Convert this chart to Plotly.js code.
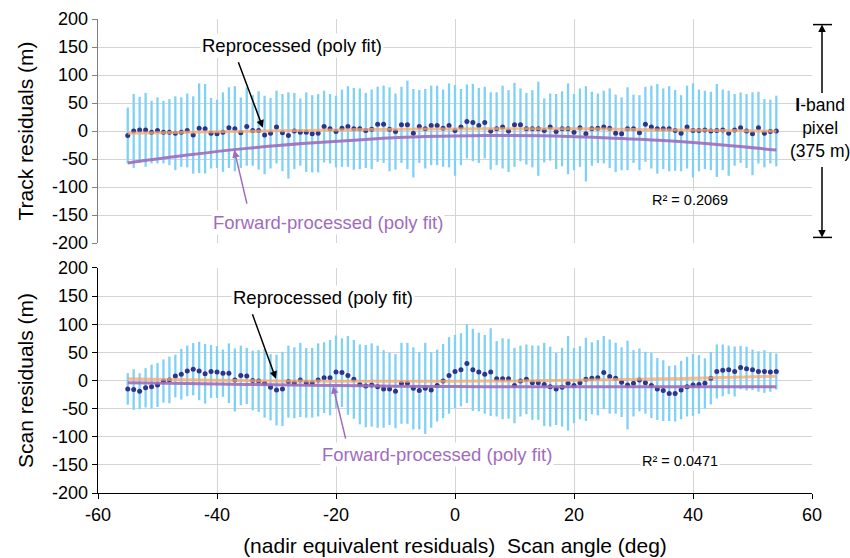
<!DOCTYPE html>
<html>
<head>
<meta charset="utf-8">
<script src="https://cdn.plot.ly/plotly-3.0.1.min.js"></script>
<style>
  html, body { margin: 0; padding: 0; background: #fff; }
  #chart { width: 850px; height: 558px; }
</style>
</head>
<body>
<div id="chart"></div>
<script>
// Scan angle of each residual sample (deg)
const scanAngle = [
  -55,-54,-53,-52,-51,-50,-49,-48,-47,-46,-45,-44,-43,-42,-41,-40,-39,-38,-37,-36,
  -35,-34,-33,-32,-31,-30,-29,-28,-27,-26,-25,-24,-23,-22,-21,-20,-19,-18,-17,-16,
  -15,-14,-13,-12,-11,-10,-9,-8,-7,-6,-5,-4,-3,-2,-1,0,1,2,3,4,
  5,6,7,8,9,10,11,12,13,14,15,16,17,18,19,20,21,22,23,24,
  25,26,27,28,29,30,31,32,33,34,35,36,37,38,39,40,41,42,43,44,
  45,46,47,48,49,50,51,52,53,54
];

// Track-direction mean residuals (m) and their spread (m)
const trackRes = [
  -8,0,2,2,-2,1,-2,-2,-4,-2,1,-7,5,4,-4,-5,-2,6,4,-3,
  8,1,1,-7,-4,7,-3,-8,0,-2,-2,-5,-4,8,4,-1,5,8,4,4,
  1,3,12,12,3,-1,11,11,-4,8,4,10,10,5,10,1,7,17,15,10,
  15,0,4,7,0,11,11,4,4,4,1,7,-1,4,4,-2,6,-5,4,5,
  7,5,-4,-5,4,4,-3,12,7,4,4,4,1,-4,7,1,1,2,0,1,
  2,-4,2,6,0,-5,6,-4,-1,0
];
const trackErr = [
  50,66,59,66,56,59,56,59,66,62,66,69,80,80,63,61,71,72,76,63,
  70,63,70,70,63,65,69,77,68,60,71,69,70,64,62,64,69,72,73,72,
  67,71,67,69,75,68,68,79,79,65,71,71,71,69,75,81,68,66,69,67,
  64,69,65,74,73,75,65,64,69,84,57,60,67,67,81,68,70,85,66,62,
  65,71,69,65,74,61,67,67,74,80,72,76,72,68,74,84,73,70,70,83,
  72,76,64,63,66,74,64,61,57,63
];

// Scan-direction mean residuals (m) and their spread (m)
const scanRes = [
  -15,-16,-19,-13,-11,-8,-1,1,8,11,17,20,17,12,16,15,13,13,1,9,
  8,0,-1,-5,-12,-17,-15,-2,-4,1,-4,-4,1,5,5,15,14,9,2,-7,
  -10,-8,-11,-15,-15,-19,-5,-5,-14,-18,-14,-17,-9,-1,9,16,19,30,19,15,
  11,15,3,3,3,-9,-1,2,-4,-4,-7,-11,-15,-12,-5,-9,-4,2,4,5,
  14,7,4,-3,-8,-5,1,-4,-9,-15,-18,-23,-23,-17,-11,-8,-7,-5,4,16,
  18,19,16,23,21,19,16,16,15,16
];
const scanErr = [
  28,36,32,35,39,39,38.5,41.5,38,45,45,46.5,52,53,47,46,42,53,56,53,
  50,53,55,61,59,63,66,64,63,66,62,62,65,63,67,65,61,70,70,71,
  73,74,73,69,64,66,72,72,73,69,81,67,64,66,68,65,65,70,73,70,
  70,78,67,72,71,67,63,62,66,66,74,71,64,70,84,67,65,74,64,67,
  65,66,63,62,79,59,56,55,58,55,54,49,50,52,53,55,52,44.5,46.5,48,
  46,43,44.5,38.5,39,36,36,38,35,32
];

// Polynomial fit curves sampled along the scan
const fitAngle    = [-55, -45, -35, -25, -15, -5, 5, 15, 25, 35, 45, 54];
const trackFitRe  = [-4, -2, -0.5, 1, 2.5, 3.5, 4, 4, 3.5, 2, 1, -0.5];
const trackFitFwd = [-57, -43, -31, -22, -15, -10, -8, -8.5, -12, -17, -25, -34];
const scanFitRe   = [3, 1.2, -0.2, -1.1, -1.5, -1.5, -1.1, -0.2, 1.2, 3, 5.2, 7.7];
const scanFitFwd  = [-4, -5.5, -7, -8.5, -9.5, -10.5, -11, -11, -11, -11, -11, -11];

// Tick labels
const xTickVals = [-60, -40, -20, 0, 20, 40, 60];
const xTickText = ['-60', '-40', '-20', '0', '20', '40', '60'];
const yTickVals = [-200, -150, -100, -50, 0, 50, 100, 150, 200];
const yTickText = ['-200', '-150', '-100', '-50', '0', '50', '100', '150', '200'];

const FONT = 'Liberation Sans, Arial, Helvetica, sans-serif';
const NAVY = '#2b3590';
const SKY = '#80d1f6';
const ORANGE = '#f7a76a';
const PURPLE = '#9f6cbd';
const GRID = '#d4d4d4';

function residualTrace(y, err, xa, ya) {
  return {
    x: scanAngle, y: y, xaxis: xa, yaxis: ya,
    type: 'scatter', mode: 'markers',
    marker: { color: NAVY, size: 5 },
    error_y: { type: 'data', array: err, visible: true, color: SKY, thickness: 2.3, width: 0 },
    hoverinfo: 'x+y'
  };
}
function fitTrace(y, color, xa, ya, op) {
  return {
    x: fitAngle, y: y, xaxis: xa, yaxis: ya,
    type: 'scatter', mode: 'lines',
    line: { color: color, width: 3, shape: 'spline' },
    opacity: op
  };
}

const data = [
  residualTrace(trackRes, trackErr, 'x', 'y'),
  fitTrace(trackFitFwd, PURPLE, 'x', 'y', 0.9),
  fitTrace(trackFitRe, ORANGE, 'x', 'y', 0.75),
  residualTrace(scanRes, scanErr, 'x2', 'y2'),
  fitTrace(scanFitFwd, PURPLE, 'x2', 'y2', 0.9),
  fitTrace(scanFitRe, ORANGE, 'x2', 'y2', 0.75)
];

function yAxis(domain, title, lineColor) {
  return {
    domain: domain, range: [-200, 200],
    tickmode: 'array', tickvals: yTickVals, ticktext: yTickText,
    ticks: 'outside', ticklen: 5, tickcolor: lineColor, tickfont: { size: 18 },
    showline: true, linecolor: lineColor, linewidth: 1.3,
    showgrid: true, gridcolor: GRID, gridwidth: 1, zeroline: false,
    title: { text: title, font: { size: 21 }, standoff: 12 }
  };
}
function xAxis(anchor, labels) {
  const ax = {
    anchor: anchor, domain: [0, 1], range: [-60, 60],
    tickmode: 'array', tickvals: xTickVals, ticktext: xTickText,
    showgrid: true, gridcolor: GRID, gridwidth: 1, zeroline: false,
    tickfont: { size: 18 }
  };
  if (labels) {
    Object.assign(ax, {
      ticks: 'outside', ticklen: 5, tickcolor: 'black',
      showline: true, linecolor: 'black', linewidth: 1.3,
      title: { text: '(nadir equivalent residuals)  Scan angle (deg)', font: { size: 21 }, standoff: 14 }
    });
  } else {
    Object.assign(ax, { showticklabels: false, ticks: '', showline: false });
  }
  return ax;
}

const noteFont = { family: FONT, size: 18.5, color: 'black' };
const purpleFont = { family: FONT, size: 18.5, color: PURPLE };
const r2Font = { family: FONT, size: 14.5, color: 'black' };

const annotations = [
  // labels of the fit curves
  { xref: 'x', yref: 'y', x: -27.4, y: 152, text: 'Reprocessed (poly fit)', showarrow: false,
    font: noteFont, bgcolor: 'white' },
  { xref: 'x', yref: 'y', x: -32.3, y: 6, ax: -25, ay: -67, text: '', showarrow: true,
    arrowcolor: 'black', arrowwidth: 1.5, arrowhead: 2, arrowsize: 1 },
  { xref: 'x', yref: 'y', x: -21.3, y: -162.5, text: 'Forward-processed (poly fit)', showarrow: false,
    font: purpleFont, bgcolor: 'white' },
  { xref: 'x', yref: 'y', x: -37.1, y: -34, ax: 13, ay: 55, text: '', showarrow: true,
    arrowcolor: PURPLE, arrowwidth: 1.5, arrowhead: 2, arrowsize: 1 },
  { xref: 'x', yref: 'y', x: 39.5, y: -123, text: 'R² = 0.2069', showarrow: false,
    font: r2Font, bgcolor: 'white' },

  { xref: 'x2', yref: 'y2', x: -22.2, y: 148, text: 'Reprocessed (poly fit)', showarrow: false,
    font: noteFont, bgcolor: 'white' },
  { xref: 'x2', yref: 'y2', x: -30.1, y: 3, ax: -24, ay: -66, text: '', showarrow: true,
    arrowcolor: 'black', arrowwidth: 1.5, arrowhead: 2, arrowsize: 1 },
  { xref: 'x2', yref: 'y2', x: -3.0, y: -131, text: 'Forward-processed (poly fit)', showarrow: false,
    font: purpleFont, bgcolor: 'white' },
  { xref: 'x2', yref: 'y2', x: -20.5, y: -10, ax: 13, ay: 54, text: '', showarrow: true,
    arrowcolor: PURPLE, arrowwidth: 1.5, arrowhead: 2, arrowsize: 1 },
  { xref: 'x2', yref: 'y2', x: 37.8, y: -143, text: 'R² = 0.0471', showarrow: false,
    font: r2Font, bgcolor: 'white' },

  // pixel size marker to the right of the upper panel
  { xref: 'paper', yref: 'y', x: 1.0115, y: 5, text: '<b>I</b>-band<br>pixel<br>(375 m)',
    showarrow: false, xanchor: 'center', font: { family: FONT, size: 17.5, color: 'black' } },
  { xref: 'paper', yref: 'y', x: 1.014, y: 190, ax: 0, ay: 70, text: '', showarrow: true,
    arrowcolor: 'black', arrowwidth: 1.5, arrowhead: 2, arrowsize: 1 },
  { xref: 'paper', yref: 'y', x: 1.014, y: -190, ax: 0, ay: -72, text: '', showarrow: true,
    arrowcolor: 'black', arrowwidth: 1.5, arrowhead: 2, arrowsize: 1 }
];

const shapes = [
  { type: 'line', xref: 'paper', yref: 'y', x0: 1.0014, x1: 1.028, y0: 190, y1: 190,
    line: { color: 'black', width: 1.5 } },
  { type: 'line', xref: 'paper', yref: 'y', x0: 1.0014, x1: 1.028, y0: -190, y1: -190,
    line: { color: 'black', width: 1.5 } }
];

const layout = {
  width: 850, height: 558,
  margin: { l: 98, r: 38, t: 19, b: 65 },
  paper_bgcolor: 'white', plot_bgcolor: 'white',
  font: { family: FONT, size: 18, color: 'black' },
  showlegend: false,
  xaxis: xAxis('y', false),
  yaxis: yAxis([0.5274, 1], 'Track residuals (m)', '#808080'),
  xaxis2: xAxis('y2', true),
  yaxis2: yAxis([0, 0.4747], 'Scan residuals (m)', 'black'),
  annotations: annotations,
  shapes: shapes
};

Plotly.newPlot('chart', data, layout, { displayModeBar: false, staticPlot: true });
</script>
</body>
</html>
